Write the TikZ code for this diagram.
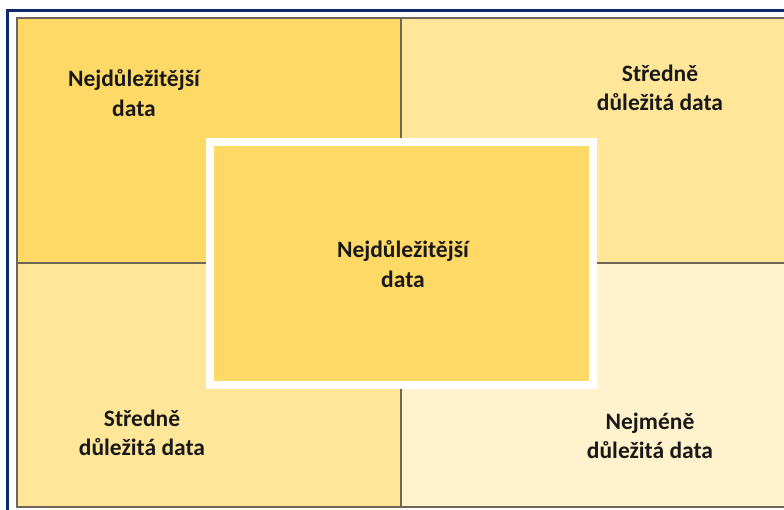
\documentclass[tikz,border=0pt]{standalone}
\usepackage{fontspec}
\setmainfont{Carlito}
\begin{document}
\begin{tikzpicture}[x=1pt,y=-1pt,
  cell/.style={draw=gridgray,line width=1.8pt},
  lbl/.style={font=\bfseries\fontsize{23.5}{29.5}\selectfont,align=center,text=black!90,inner sep=0pt}]
\definecolor{navy}{HTML}{0E2A6E}
\definecolor{gridgray}{HTML}{6E6656}
\definecolor{goldA}{HTML}{FFD966}
\definecolor{goldB}{HTML}{FFE699}
\definecolor{goldC}{HTML}{FFF2CC}
\useasboundingbox (0,0) rectangle (784,510);
\fill[white] (0,0) rectangle (784,510);
% outer frame
\draw[navy,line width=3pt] (7.5,530) -- (7.5,10.5) -- (800,10.5);
% quadrants
\filldraw[cell,fill=goldA] (17,18) rectangle (401,263);
\filldraw[cell,fill=goldB] (401,18) rectangle (800,263);
\filldraw[cell,fill=goldB] (17,263) rectangle (401,507);
\filldraw[cell,fill=goldC] (401,263) rectangle (800,507);
% centre box
\filldraw[draw=white,line width=8pt,fill=goldA] (210,142) rectangle (593,385);
% labels
\node[lbl] (tl) at (134,93) {Nejdůležitější\\data};
\node[lbl] (tr) at (660,88) {Středně\\důležitá data};
\node[lbl] (c) at (403,264) {Nejdůležitější\\data};
\node[lbl] (bl) at (142,433) {Středně\\důležitá data};
\node[lbl] (br) at (650,436) {Nejméně\\důležitá data};
\end{tikzpicture}
\end{document}
